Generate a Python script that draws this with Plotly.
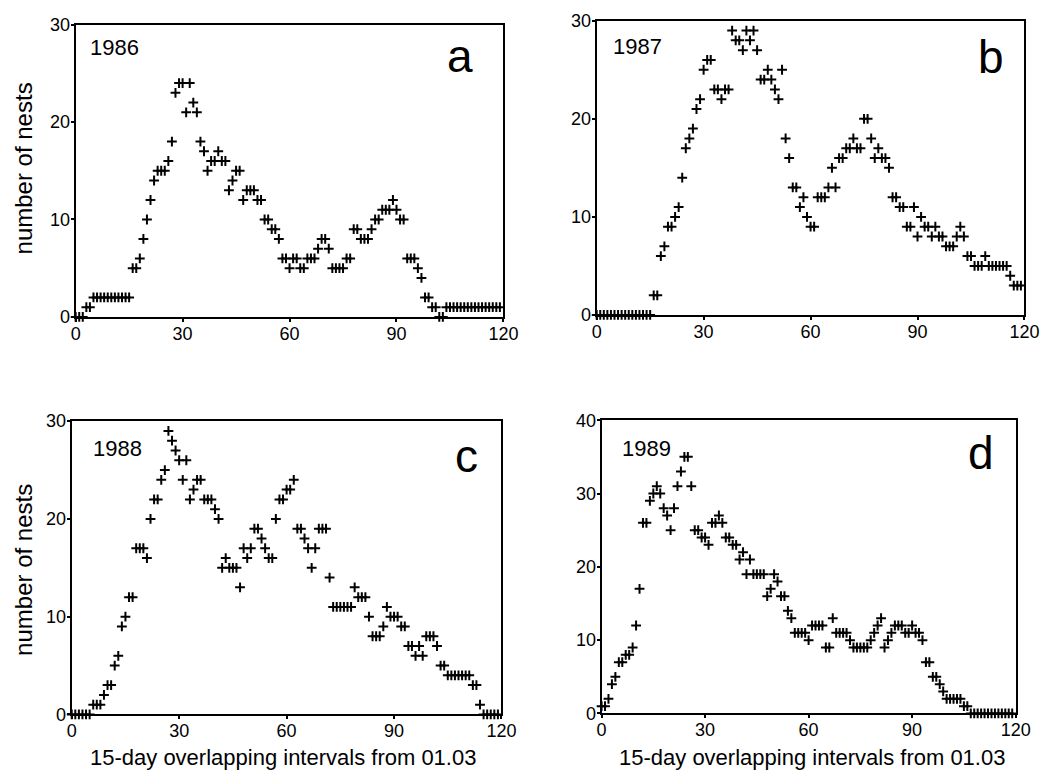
import plotly.graph_objects as go

# 15-day overlapping interval index (from 01.03)
interval = list(range(0, 120))

nests_1986 = [0,0,0,1,1, 2,2,2,2,2, 2,2,2,2,2, 2,5,5,6,8, 10,12,14,15,15, 15,16,18,23,24,
              24,21,24,22,21, 18,17,15,16,16, 17,16,16,13,14, 15,15,12,13,13, 13,12,12,10,10, 9,9,8,6,6,
              5,6,6,5,5, 6,6,6,7,8, 8,7,5,5,5, 5,6,6,9,9, 8,8,8,9,10, 10,11,11,11,12,
              11,10,10,6,6, 6,5,4,2,2, 1,1,0,0,1, 1,1,1,1,1, 1,1,1,1,1, 1,1,1,1,1]
nests_1987 = [0,0,0,0,0, 0,0,0,0,0, 0,0,0,0,0, 0,2,2,6,7, 9,9,10,11,14, 17,18,19,21,22,
              25,26,26,23,23, 22,23,23,29,28, 28,27,29,28,29, 27,24,24,25,24, 23,22,25,18,16, 13,13,11,12,10,
              9,9,12,12,12, 13,15,13,16,16, 17,17,18,17,17, 20,20,18,16,17, 16,16,15,12,12, 11,11,9,9,11,
              8,10,9,9,8, 9,8,8,7,7, 7,8,9,8,6, 6,5,5,5,6, 5,5,5,5,5, 5,4,3,3,3]
nests_1988 = [0,0,0,0,0, 0,1,1,1,2, 3,3,5,6,9, 10,12,12,17,17, 17,16,20,22,22, 24,25,29,28,27,
              26,24,26,22,23, 24,24,22,22,22, 21,20,15,16,15, 15,15,13,17,16, 17,19,19,18,17, 16,16,20,22,22,
              23,23,24,19,19, 18,17,15,17,19, 19,19,14,11,11, 11,11,11,11,13, 12,12,12,10,8, 8,8,9,11,10,
              10,10,9,9,7, 7,6,7,6,8, 8,8,7,5,5, 4,4,4,4,4, 4,4,3,3,1, 0,0,0,0,0]
nests_1989 = [1,1,2,4,5, 7,7,8,8,9, 12,17,26,26,29, 30,31,30,28,27, 25,28,31,33,35, 35,31,25,25,24,
              24,23,26,26,27, 26,24,24,23,23, 21,22,19,21,19, 19,19,19,16,17, 19,18,16,16,14, 13,11,11,11,11,
              10,12,12,12,12, 9,9,13,11,11, 11,11,10,9,9, 9,9,9,10,11, 12,13,9,10,11, 12,12,12,11,11,
              12,11,11,10,7, 7,5,5,4,3, 2,2,2,2,2, 1,1,0,0,0, 0,0,0,0,0, 0,0,0,0,0]

years = ["1986", "1987", "1988", "1989"]
letters = ["a", "b", "c", "d"]
series = [nests_1986, nests_1987, nests_1988, nests_1989]
y_max = [30, 30, 30, 40]
x_ticks = [0, 30, 60, 90, 120]

W, H = 1064, 779
def px(x):
    return x / W
def py(y):
    return 1 - y / H

# panel boxes in pixels: (left, right, top, bottom)
boxes = [(72, 508, 15, 315), (603, 1039, 11, 313), (68, 506, 422, 723), (608, 1030, 421, 722)]

fig = go.Figure()
FONT = "Liberation Sans, Arial, sans-serif"
for i in range(4):
    xa = "x" if i == 0 else f"x{i+1}"
    ya = "y" if i == 0 else f"y{i+1}"
    fig.add_trace(go.Scatter(
        x=interval, y=series[i], mode="markers", xaxis=xa, yaxis=ya,
        marker=dict(symbol="cross-thin", size=7, color="black",
                    line=dict(color="black", width=2)),
        cliponaxis=False, showlegend=False, hoverinfo="x+y"))
    l, r, t, b = boxes[i]
    axis_common = dict(showline=True, linecolor="black", linewidth=2, mirror=True,
                       ticks="outside", ticklen=3, tickwidth=1.5, tickcolor="black",
                       showgrid=False, zeroline=False,
                       tickfont=dict(family=FONT, size=18, color="black"))
    xkey = "xaxis" if i == 0 else f"xaxis{i+1}"
    ykey = "yaxis" if i == 0 else f"yaxis{i+1}"
    fig.layout[xkey] = dict(axis_common, domain=[px(l), px(r)], range=[0, 120],
                            tickvals=x_ticks, anchor=ya, ticklabelstandoff=-4)
    fig.layout[ykey] = dict(axis_common, domain=[py(b), py(t)], range=[0, y_max[i]],
                            dtick=10, anchor=xa, ticklabelstandoff=-3)

ann = []
year_pos = [(85, 38), (618, 37), (88, 450), (627, 450)]
letter_pos = [(464, 47), (1005, 48), (470, 458), (995, 455)]
for i in range(4):
    ann.append(dict(text=years[i], x=px(year_pos[i][0]), y=py(year_pos[i][1]), xref="paper", yref="paper",
                    xanchor="left", yanchor="middle", showarrow=False,
                    font=dict(family=FONT, size=22, color="black")))
    ann.append(dict(text=letters[i], x=px(letter_pos[i][0]), y=py(letter_pos[i][1]), xref="paper", yref="paper",
                    xanchor="center", yanchor="middle", showarrow=False,
                    font=dict(family=FONT, size=46, color="black")))
for cy in (163, 575):
    ann.append(dict(text="number of nests", x=px(19), y=py(cy), xref="paper", yref="paper",
                    xanchor="center", yanchor="middle", textangle=-90, showarrow=False,
                    font=dict(family=FONT, size=24, color="black")))
for cx in (283, 822):
    ann.append(dict(text="15-day overlapping intervals from 01.03", x=px(cx), y=py(767), xref="paper", yref="paper",
                    xanchor="center", yanchor="middle", showarrow=False,
                    font=dict(family=FONT, size=22, color="black")))

fig.update_layout(width=W, height=H, margin=dict(l=0, r=0, t=0, b=0),
                  paper_bgcolor="white", plot_bgcolor="white", annotations=ann)
fig.write_html("out.html", config={"displayModeBar": False},
               post_script="document.body.style.margin='0';document.body.style.overflow='hidden';")
